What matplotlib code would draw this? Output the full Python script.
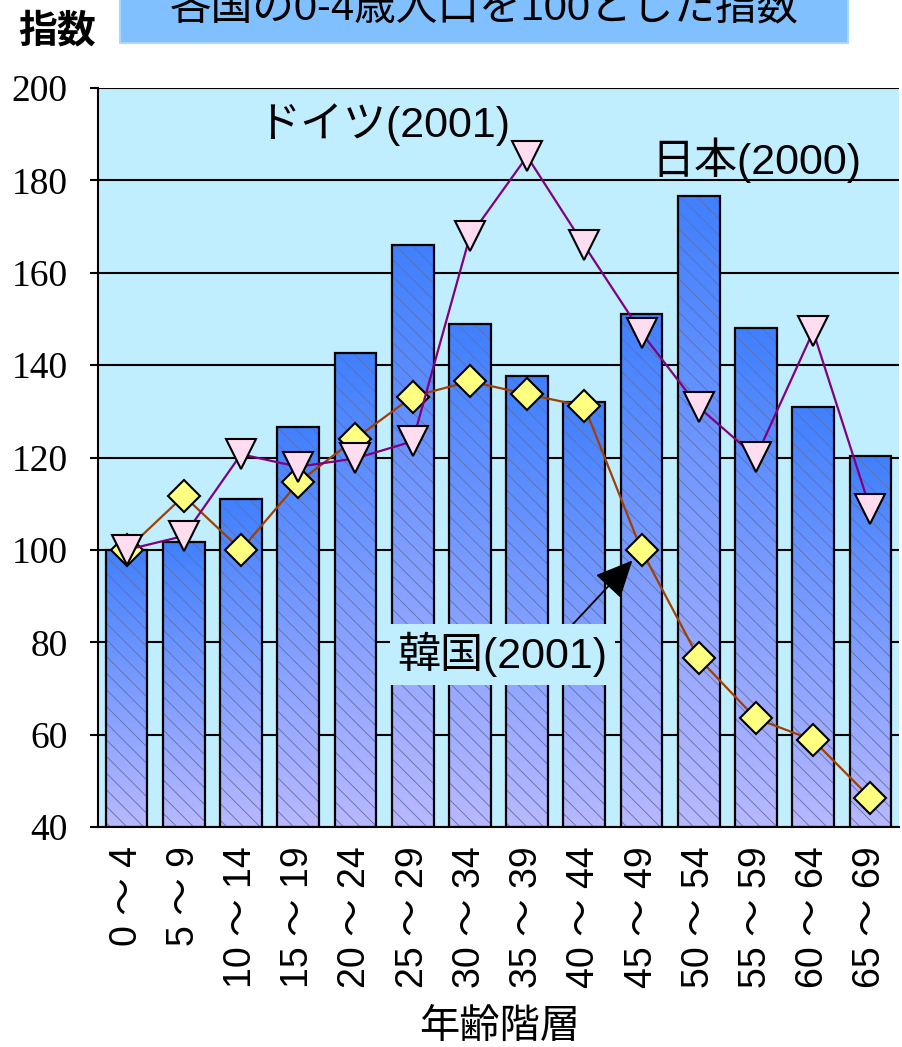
import matplotlib
import numpy as np

matplotlib.use("Agg")
import matplotlib.pyplot as plt
from matplotlib.colors import LinearSegmentedColormap
from matplotlib.patches import Rectangle

# age groups and index values (0-4 = 100)
age_groups = ["0 ～ 4", "5 ～ 9", "10 ～ 14", "15 ～ 19", "20 ～ 24", "25 ～ 29", "30 ～ 34",
              "35 ～ 39", "40 ～ 44", "45 ～ 49", "50 ～ 54", "55 ～ 59", "60 ～ 64", "65 ～ 69"]
japan_2000 = [100, 101.8, 111.1, 126.7, 142.7, 166.0, 148.8, 137.6, 132.1, 151.0, 176.7, 148.0, 131.0, 120.4]
germany_2001 = [100, 103.0, 120.7, 118.0, 119.8, 123.5, 167.9, 185.2, 165.9, 147.0, 130.9, 120.1, 147.3, 108.8]
korea_2001 = [100, 111.7, 100, 114.6, 124.1, 133.2, 136.5, 133.7, 131.1, 99.9, 76.5, 63.5, 58.8, 46.3]
y_ticks = [40, 60, 80, 100, 120, 140, 160, 180, 200]

CJK = ["Liberation Sans", "Noto Sans CJK JP", "DejaVu Sans"]
plt.rcParams["font.family"] = CJK
plt.rcParams["hatch.linewidth"] = 0.6

fig = plt.figure(figsize=(9.02, 10.47), dpi=100)
ax = fig.add_axes([98 / 902, 1 - 827 / 1047, 801 / 902, (827 - 88) / 1047])
ax.set_facecolor("#C0EEFF")

x = np.arange(len(age_groups))
bar_w = 0.73
ymin = 40

grad_cmap = LinearSegmentedColormap.from_list("bar", ["#B8B8FF", "#4080FF"])
grad = np.linspace(0, 1, 200).reshape(-1, 1)
for xi, h in zip(x, japan_2000):
    ax.imshow(grad, extent=[xi - bar_w / 2, xi + bar_w / 2, ymin, h], origin="lower",
              aspect="auto", cmap=grad_cmap, zorder=2, interpolation="bilinear")

# hatch layer and outline
ax.bar(x, np.array(japan_2000) - ymin, bottom=ymin, width=bar_w, facecolor="none",
       edgecolor="#6070A0", hatch="\\\\", linewidth=0, zorder=3)
ax.bar(x, np.array(japan_2000) - ymin, bottom=ymin, width=bar_w, fill=False,
       edgecolor="black", linewidth=1.6, zorder=4)

ax.plot(x, korea_2001, color="#A04000", lw=1.6, marker="D", ms=16,
        markerfacecolor="#FFFF80", markeredgecolor="black", markeredgewidth=1.5, zorder=5)
ax.plot(x, germany_2001, color="#800080", lw=1.6, marker="v", ms=21,
        markerfacecolor="#FFDDF0", markeredgecolor="black", markeredgewidth=1.5, zorder=6)

ax.set_xlim(-0.5, len(age_groups) - 0.5)
ax.set_ylim(40, 200)
ax.set_yticks(y_ticks)
ax.set_yticklabels([str(v) for v in y_ticks])
for lbl in ax.get_yticklabels():
    lbl.set_fontfamily(["Liberation Serif"])
    lbl.set_fontsize(27)
ax.set_xticks(x)
ax.set_xticklabels(age_groups, rotation=90)
for lbl in ax.get_xticklabels():
    lbl.set_fontfamily(CJK)
    lbl.set_fontsize(27)
ax.tick_params(axis="x", length=0, pad=14)
ax.tick_params(axis="y", length=6, width=1.5, pad=16)
ax.yaxis.grid(True, color="black", lw=1.5, zorder=1)
ax.set_axisbelow(True)
for side in ["top", "right"]:
    ax.spines[side].set_visible(False)
ax.spines["left"].set_linewidth(1.5)
ax.spines["bottom"].set_linewidth(1.5)

ax.set_xlabel("年齢階層", fontsize=29, family=CJK, va="center")
ax.xaxis.set_label_coords(500 / 902 * 902 / 801 - 98 / 801, -(1027 - 827) / 739)

# series labels
ax.text(4.49, 192, "ドイツ(2001)", fontsize=31, ha="center", va="center", family=CJK, zorder=7)
ax.text(11.0, 184.4, "日本(2000)", fontsize=31, ha="center", va="center", family=CJK, zorder=7)
ax.annotate("韓国(2001)", xy=(8.84, 97.7), xytext=(6.57, 77.3), fontsize=31,
            ha="center", va="center", family=CJK, zorder=7,
            bbox=dict(boxstyle="square,pad=0.18", fc="#C0EEFF", ec="none"),
            arrowprops=dict(arrowstyle="-|>,head_length=0.75,head_width=0.35", color="black",
                            lw=1.3, shrinkA=0, shrinkB=0, relpos=(0.8, 1.0)))

# title box (cut at top) and y label
fig.patches.append(Rectangle((120 / 902, 1 - 43 / 1047), 728 / 902, 60 / 1047,
                             transform=fig.transFigure, facecolor="#80C0FF",
                             edgecolor="#A8D8FF", lw=1.5, zorder=0))
fig.text(484 / 902, 1 - 20 / 1047, "各国の0-4歳人口を100とした指数", fontsize=30,
         ha="center", va="baseline", family=CJK)
fig.text(57 / 902, 1 - 31 / 1047, "指数", fontsize=28, ha="center", va="center",
         family=["Noto Sans CJK JP"], fontweight="bold")

fig.savefig("out.png", dpi=100)
